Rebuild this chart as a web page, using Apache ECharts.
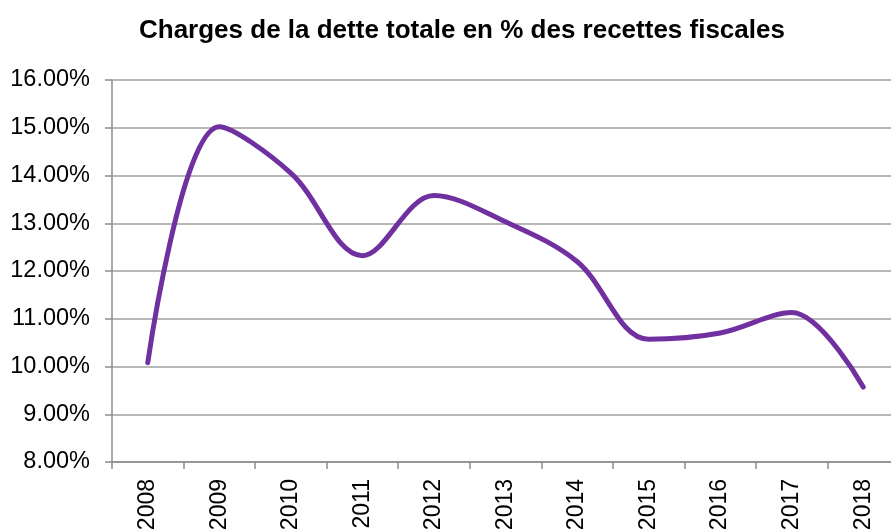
<!DOCTYPE html>
<html>
<head>
<meta charset="utf-8">
<script src="https://cdn.jsdelivr.net/npm/echarts@6/dist/echarts.min.js"></script>
<style>
  html, body { margin: 0; padding: 0; background: #fff; }
  #chart { width: 891px; height: 532px; }
</style>
</head>
<body>
<div id="chart"></div>
<script>
// années et ratio charges / recettes fiscales (%)
const years = ['2008', '2009', '2010', '2011', '2012', '2013', '2014', '2015', '2016', '2017', '2018'];
const ratio = [10.08, 15.02, 14.05, 12.32, 13.58, 13.03, 12.2, 10.57, 10.7, 11.13, 9.57];

const myChart = echarts.init(document.getElementById('chart'));
const option = {
  animation: false,
  title: {
    text: 'Charges de la dette totale en % des recettes fiscales',
    left: 134,
    top: 13,
    textStyle: {
      fontFamily: 'Liberation Sans, Arial, sans-serif',
      fontWeight: 'bold',
      fontSize: 26,
      color: '#000'
    }
  },
  grid: {
    left: 112,
    top: 80,
    width: 787,
    bottom: 70,
    outerBoundsMode: 'none'
  },
  xAxis: {
    type: 'category',
    data: years,
    boundaryGap: true,
    axisLine: { lineStyle: { color: '#8c8c8c', width: 1.5 } },
    axisTick: { show: true, length: 7, lineStyle: { color: '#8c8c8c', width: 1.5 } },
    axisLabel: {
      rotate: 90,
      margin: 17,
      color: '#000',
      fontSize: 23,
      fontFamily: 'Liberation Sans, Arial, sans-serif'
    }
  },
  yAxis: {
    type: 'value',
    min: 8,
    max: 16,
    interval: 1,
    axisLine: { show: true, lineStyle: { color: '#8c8c8c', width: 1.5 } },
    axisTick: { show: true, length: 7, lineStyle: { color: '#8c8c8c', width: 1.5 } },
    splitLine: { lineStyle: { color: '#a0a0a0', width: 1.5 } },
    axisLabel: {
      margin: 22,
      color: '#000',
      fontSize: 23.5,
      fontFamily: 'Liberation Sans, Arial, sans-serif',
      formatter: v => v.toFixed(2) + '%'
    }
  },
  series: [{
    type: 'line',
    data: ratio,
    smooth: 0.35,
    showSymbol: false,
    lineStyle: { color: '#7030a0', width: 5, cap: 'round' }
  }]
};
myChart.setOption(option);
</script>
</body>
</html>
